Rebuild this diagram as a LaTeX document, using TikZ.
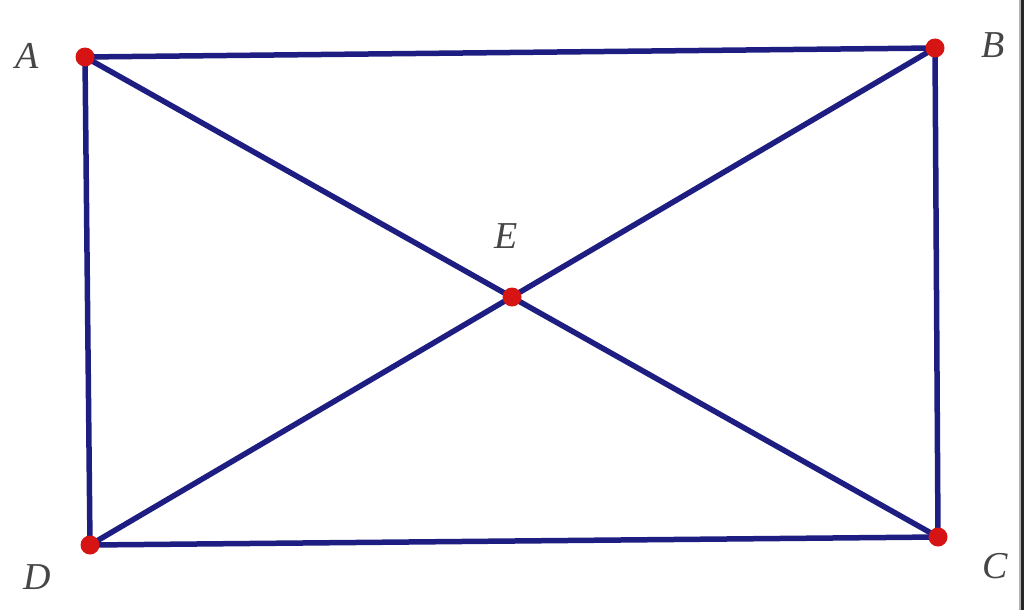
\documentclass[tikz,border=0pt]{standalone}
\usepackage{fontspec}
\setmainfont{Liberation Serif}
\begin{document}
\begin{tikzpicture}[x=1pt,y=-1pt,
  seg/.style={draw={rgb,255:red,30;green,30;blue,130},line width=5.5pt,line cap=round},
  pt/.style={circle,fill={rgb,255:red,215;green,20;blue,20},inner sep=0pt,minimum size=19pt},
  lbl/.style={font=\fontsize{38}{44}\selectfont\itshape,text={rgb,255:red,70;green,70;blue,70}}]
\useasboundingbox (0,0) rectangle (1024,610);
\fill[gray!60] (1019,0) rectangle (1021,610);
\fill[black!85] (1021,0) rectangle (1024,610);
\coordinate (A) at (85,57);
\coordinate (B) at (935,48);
\coordinate (C) at (938,537);
\coordinate (D) at (90,545);
\coordinate (E) at (512,297);
\draw[seg] (A) -- (B) -- (C) -- (D) -- cycle;
\draw[seg] (A) -- (C);
\draw[seg] (B) -- (D);
\node[pt] (pA) at (A) {};
\node[pt] (pB) at (B) {};
\node[pt] (pC) at (C) {};
\node[pt] (pD) at (D) {};
\node[pt] (pE) at (E) {};
\node[lbl] (lA) at (27,56) {A};
\node[lbl] (lB) at (993,45) {B};
\node[lbl] (lC) at (995,566) {C};
\node[lbl] (lD) at (37,577) {D};
\node[lbl] (lE) at (506,236) {E};
\end{tikzpicture}
\end{document}
